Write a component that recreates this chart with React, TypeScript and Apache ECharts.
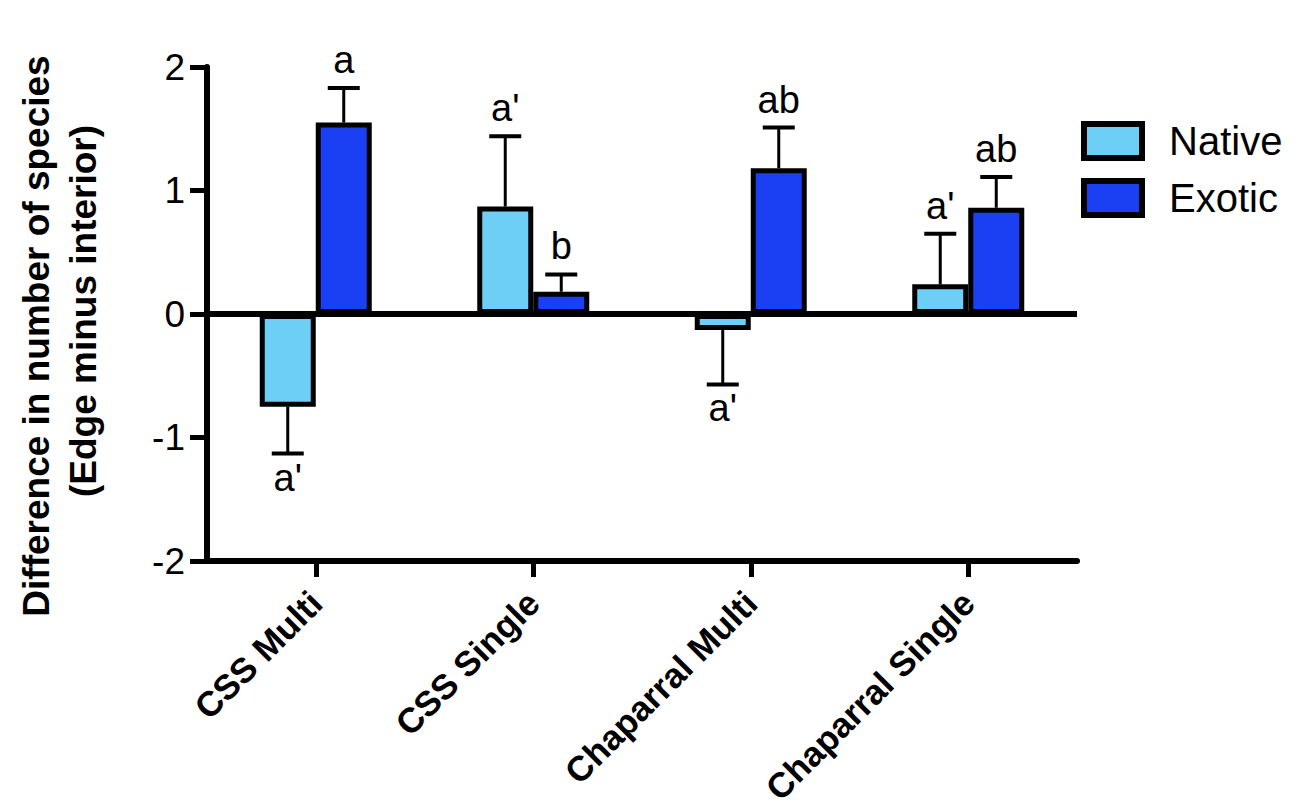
import React, { useEffect, useRef } from "react";
import * as echarts from "echarts";

const categories = ["CSS Multi", "CSS Single", "Chaparral Multi", "Chaparral Single"];
const seriesNames = ["Native", "Exotic"];
const nativeMean = [-0.75, 0.87, -0.13, 0.24];
const nativeErr = [0.38, 0.57, 0.44, 0.41];
const nativeLetters = ["a'", "a'", "a'", "a'"];
const exoticMean = [1.55, 0.18, 1.18, 0.86];
const exoticErr = [0.28, 0.14, 0.33, 0.25];
const exoticLetters = ["a", "b", "ab", "ab"];
const yTicks = [-2, -1, 0, 1, 2];

const FONT = "'Liberation Sans', Arial, Helvetica, sans-serif";
const BAR_W = 56;
const NATIVE_COLOR = "#6DCFF6";
const EXOTIC_COLOR = "#1B3FF2";

function errorSeries(name: string, means: number[], errs: number[], letters: string[], side: number) {
  return {
    type: "custom",
    name: name + " err",
    z: 3,
    silent: true,
    data: means.map((m, i) => [i, m, errs[i], letters[i]]),
    renderItem: (params: any, api: any) => {
      const i = api.value(0);
      const m = api.value(1);
      const e = api.value(2);
      const letter = letters[params.dataIndex];
      const end = m >= 0 ? m + e : m - e;
      const p0 = api.coord([i, m]);
      const p1 = api.coord([i, end]);
      const x = p0[0] + (side * BAR_W) / 2;
      const capHalf = 16;
      const up = m >= 0;
      return {
        type: "group",
        children: [
          { type: "line", shape: { x1: x, y1: p0[1], x2: x, y2: p1[1] }, style: { stroke: "#000", lineWidth: 3 } },
          { type: "line", shape: { x1: x - capHalf, y1: p1[1], x2: x + capHalf, y2: p1[1] }, style: { stroke: "#000", lineWidth: 4 } },
          {
            type: "text",
            x: x,
            y: up ? p1[1] - 28 : p1[1] + 24,
            style: {
              text: letter,
              fill: "#000",
              fontSize: 38,
              fontFamily: FONT,
              align: "center",
              verticalAlign: "middle",
            },
          },
        ],
      };
    },
  };
}

export default function App() {
  const ref = useRef<HTMLDivElement>(null);
  useEffect(() => {
    if (!ref.current) return;
    const chart = echarts.init(ref.current, null, { renderer: "svg" });
    const option: any = {
      animation: false,
      backgroundColor: "#fff",
      textStyle: { fontFamily: FONT },
      grid: { left: 207, right: 223, top: 67, bottom: 251, outerBoundsMode: "none", containLabel: false },
      legend: {
        data: seriesNames,
        orient: "vertical",
        left: 1081,
        top: 121,
        padding: 0,
        icon: "rect",
        itemWidth: 58,
        itemHeight: 34,
        itemGap: 17,
        itemStyle: { borderColor: "#000", borderWidth: 6 },
        textStyle: { fontSize: 40, color: "#000", fontFamily: FONT, padding: [0, 0, 0, 22] },
        selectedMode: false,
      },
      xAxis: {
        type: "category",
        data: categories,
        axisLine: { show: true, onZero: false, lineStyle: { color: "#000", width: 6 } },
        axisTick: { show: true, alignWithLabel: true, length: 16, lineStyle: { color: "#000", width: 5 } },
        axisLabel: {
          interval: 0,
          rotate: 45,
          margin: 36,
          fontSize: 35,
          fontWeight: "bold",
          color: "#000",
          fontFamily: FONT,
        },
        splitLine: { show: false },
      },
      yAxis: {
        type: "value",
        min: yTicks[0],
        max: yTicks[yTicks.length - 1],
        interval: 1,
        axisLine: { show: true, lineStyle: { color: "#000", width: 6 } },
        axisTick: { show: true, length: 17, lineStyle: { color: "#000", width: 5 } },
        axisLabel: { fontSize: 37, color: "#000", margin: 22, fontFamily: FONT },
        splitLine: { show: false },
      },
      graphic: [
        {
          type: "text",
          x: 36,
          y: 336,
          rotation: Math.PI / 2,
          style: {
            text: "Difference in number of species",
            fill: "#000",
            fontSize: 37,
            fontWeight: "bold",
            fontFamily: FONT,
            align: "center",
            verticalAlign: "middle",
          },
        },
        {
          type: "text",
          x: 83,
          y: 311,
          rotation: Math.PI / 2,
          style: {
            text: "(Edge minus interior)",
            fill: "#000",
            fontSize: 37,
            fontWeight: "bold",
            fontFamily: FONT,
            align: "center",
            verticalAlign: "middle",
          },
        },
      ],
      series: [
        {
          type: "bar",
          name: seriesNames[0],
          data: nativeMean,
          barWidth: BAR_W,
          barGap: "0%",
          itemStyle: { color: NATIVE_COLOR, borderColor: "#000", borderWidth: 5 },
          markLine: {
            silent: true,
            symbol: ["none", "none"],
            label: { show: false },
            lineStyle: { color: "#000", width: 6, type: "solid" },
            data: [{ yAxis: 0 }],
          },
          z: 2,
        },
        {
          type: "bar",
          name: seriesNames[1],
          data: exoticMean,
          barWidth: BAR_W,
          barGap: "0%",
          itemStyle: { color: EXOTIC_COLOR, borderColor: "#000", borderWidth: 5 },
          z: 2,
        },
        errorSeries(seriesNames[0], nativeMean, nativeErr, nativeLetters, -1),
        errorSeries(seriesNames[1], exoticMean, exoticErr, exoticLetters, 1),
      ],
    };
    chart.setOption(option);
    return () => chart.dispose();
  }, []);
  return (
    <div
      ref={ref}
      style={{ position: "fixed", left: 0, top: 0, width: 1300, height: 812, background: "#fff" }}
    />
  );
}
